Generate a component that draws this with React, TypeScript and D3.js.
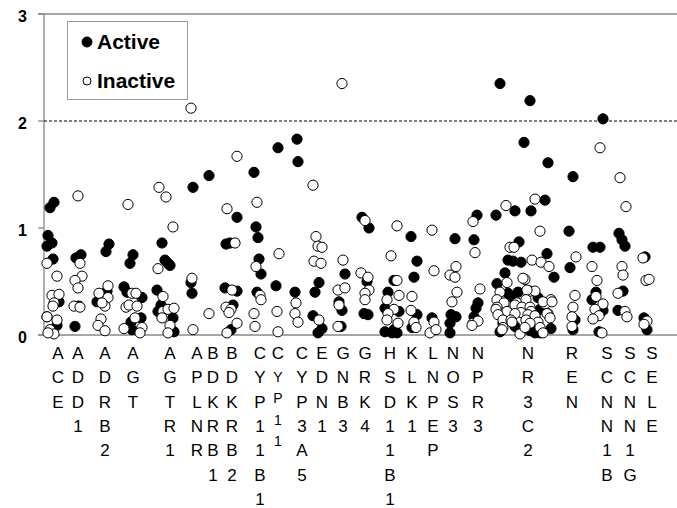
import React, { useEffect, useRef } from "react";
import * as d3 from "d3";

// gene labels and their positions along the (unlabelled) x scale
const genes = ["ACE", "ADD1", "ADRB2", "AGT", "AGTR1", "APLNR", "BDKRB1", "BDKRB2", "CYP11B1", "CYP11",
  "CYP3A5", "EDN1", "GNB3", "GRK4", "HSD11B1", "KLK1", "LNPEP", "NOS3", "NPR3", "NR3C2", "REN",
  "SCNN1B", "SCNN1G", "SELE"];
const genePos = [14, 34, 61, 89, 126, 153, 169, 188, 216, 234, 258, 278, 299, 321, 346, 368, 389, 409,
  434, 484, 528, 563, 586, 608];

// [x position, value]
const activePts: [number, number][] = [
  [10, 1.24], [6, 1.19], [4, 0.93], [8, 0.86], [3, 0.83], [9, 0.71], [15, 0.31], [3, 0.17], [13, 0.09],
  [37, 0.75], [32, 0.72], [35, 0.27], [31, 0.08],
  [65, 0.85], [62, 0.78], [63, 0.41], [53, 0.31],
  [89, 0.75], [86, 0.67], [80, 0.45], [83, 0.40], [98, 0.35], [97, 0.16], [87, 0.12], [88, 0.05],
  [118, 0.86], [121, 0.70], [124, 0.67], [126, 0.65], [113, 0.42], [117, 0.28], [114, 0.22], [129, 0.16], [130, 0.03],
  [149, 1.38], [147, 0.49], [148, 0.39],
  [165, 1.49],
  [193, 1.10], [182, 0.85], [186, 0.86], [181, 0.44], [193, 0.41], [189, 0.28], [187, 0.05],
  [210, 1.52], [212, 1.01], [214, 0.91], [215, 0.71], [217, 0.57], [213, 0.40],
  [234, 1.75], [232, 0.46],
  [253, 1.83], [254, 1.62], [251, 0.40],
  [275, 0.49], [271, 0.40], [269, 0.18], [278, 0.06], [274, 0.02],
  [301, 0.57], [295, 0.31], [298, 0.23], [297, 0.08],
  [318, 1.10], [325, 1.00], [323, 0.50], [320, 0.20], [324, 0.19],
  [350, 0.51], [344, 0.40], [341, 0.25], [355, 0.22], [341, 0.03], [348, 0.02], [353, 0.02], [350, 0.05],
  [367, 0.92], [373, 0.69], [370, 0.54], [373, 0.19], [368, 0.07],
  [388, 0.16],
  [411, 0.90], [407, 0.19], [412, 0.17], [406, 0.11], [406, 0.02],
  [433, 1.12], [430, 0.89], [434, 0.30], [432, 0.25], [430, 0.17],
  [456, 2.35], [486, 2.19], [480, 1.80], [504, 1.61], [501, 1.26], [471, 1.16], [487, 1.16], [452, 1.12],
  [475, 0.87], [464, 0.70], [469, 0.69], [477, 0.68], [503, 0.76], [510, 0.54], [461, 0.58], [453, 0.48],
  [474, 0.40], [467, 0.36], [494, 0.35], [464, 0.39], [471, 0.23], [496, 0.24], [491, 0.16], [459, 0.11],
  [471, 0.08], [456, 0.03], [486, 0.04], [491, 0.02], [496, 0.02], [507, 0.06], [489, 0.09],
  [529, 1.48], [525, 0.97], [526, 0.63], [531, 0.14], [529, 0.05],
  [559, 2.02], [549, 0.82], [556, 0.82], [552, 0.40], [548, 0.33], [559, 0.23], [555, 0.03],
  [575, 0.95], [578, 0.89], [581, 0.83], [579, 0.41], [574, 0.23],
  [601, 0.73], [600, 0.16], [603, 0.05],
];

const inactivePts: [number, number][] = [
  [3, 0.67], [13, 0.55], [8, 0.37], [15, 0.38], [10, 0.30], [9, 0.27], [3, 0.17], [13, 0.14], [6, 0.05], [10, 0.01], [4, 0.02],
  [34, 1.30], [36, 0.67], [38, 0.55], [31, 0.51], [34, 0.44], [30, 0.27], [36, 0.26],
  [64, 0.46], [55, 0.39], [64, 0.35], [61, 0.27], [58, 0.30], [57, 0.15], [54, 0.09], [61, 0.04],
  [84, 1.22], [88, 0.39], [92, 0.39], [82, 0.26], [85, 0.28], [93, 0.27], [91, 0.16], [80, 0.06], [98, 0.07], [96, 0.02],
  [115, 1.38], [122, 1.29], [129, 1.01], [114, 0.62], [119, 0.36], [119, 0.22], [124, 0.24], [130, 0.25], [118, 0.16], [126, 0.09], [124, 0.02],
  [147, 2.12], [148, 0.53], [149, 0.05],
  [165, 0.20],
  [193, 1.67], [183, 1.18], [191, 0.86], [188, 0.42], [182, 0.26], [187, 0.24], [185, 0.21], [193, 0.11], [183, 0.02],
  [213, 1.24], [212, 0.64], [216, 0.37], [217, 0.33], [210, 0.20], [211, 0.08],
  [235, 0.76], [233, 0.22], [234, 0.03],
  [252, 0.30], [251, 0.20], [254, 0.12],
  [269, 1.40], [272, 0.92], [274, 0.83], [278, 0.82], [270, 0.69], [277, 0.67], [275, 0.14],
  [298, 2.35], [299, 0.70], [294, 0.42], [301, 0.44], [295, 0.28], [294, 0.08],
  [321, 1.07], [317, 0.58], [324, 0.54], [325, 0.42], [321, 0.39], [321, 0.33],
  [353, 1.02], [347, 0.74], [353, 0.51], [343, 0.33], [355, 0.37], [350, 0.24], [344, 0.20], [343, 0.14], [354, 0.11],
  [368, 0.36], [367, 0.23], [370, 0.12], [372, 0.07],
  [388, 0.98], [390, 0.60], [390, 0.12], [386, 0.02], [392, 0.05],
  [412, 0.64], [406, 0.56], [411, 0.54], [413, 0.40], [408, 0.31],
  [429, 1.06], [431, 0.77], [436, 0.43], [429, 0.11], [434, 0.13], [428, 0.09],
  [491, 1.27], [462, 1.21], [496, 0.97], [466, 0.82], [470, 0.82], [488, 0.70], [497, 0.68], [505, 0.64],
  [463, 0.49], [481, 0.52], [479, 0.53], [456, 0.40], [486, 0.41], [491, 0.41], [483, 0.42], [453, 0.33],
  [460, 0.30], [473, 0.30], [482, 0.33], [501, 0.29], [507, 0.33], [499, 0.31], [508, 0.31], [471, 0.28],
  [478, 0.26], [486, 0.26], [453, 0.26], [452, 0.24], [463, 0.22], [477, 0.21], [487, 0.22], [504, 0.20],
  [454, 0.19], [471, 0.20], [484, 0.19], [491, 0.18], [503, 0.20], [459, 0.14], [467, 0.14], [482, 0.14],
  [494, 0.12], [506, 0.16], [468, 0.12], [486, 0.11], [459, 0.07], [476, 0.01], [481, 0.07], [496, 0.07],
  [458, 0.05], [499, 0.02],
  [532, 0.73], [531, 0.37], [529, 0.26], [528, 0.17], [528, 0.08],
  [556, 1.75], [548, 0.64], [553, 0.51], [552, 0.36], [559, 0.29], [551, 0.24], [555, 0.18], [549, 0.15], [558, 0.02],
  [576, 1.47], [582, 1.20], [578, 0.64], [579, 0.56], [574, 0.39], [581, 0.22], [583, 0.17],
  [599, 0.72], [602, 0.51], [605, 0.52], [603, 0.13], [600, 0.10],
];

const yTicks = [0, 1, 2, 3];
const threshold = 2;
const smallLabel = "CYP11"; // drawn with smaller letters in the original

const W = 677;
const H = 508;
const FONT = "Arial, 'Liberation Sans', sans-serif";

export default function App() {
  const ref = useRef<SVGSVGElement>(null);

  useEffect(() => {
    document.body.style.margin = "0";
    const margin = { top: 14, right: 0, bottom: 173, left: 44 };
    const width = W - margin.left - margin.right;
    const height = H - margin.top - margin.bottom;

    const svg = d3.select(ref.current);
    svg.selectAll("*").remove();

    const x = d3.scaleLinear().domain([0, 633]).range([0, width]);
    const y = d3.scaleLinear().domain([0, 3]).range([height, 0]);

    const g = svg.append("g").attr("transform", `translate(${margin.left},${margin.top})`);

    // axis lines
    const axisColor = "#888";
    g.append("line").attr("x1", 0).attr("x2", 0).attr("y1", 0).attr("y2", height)
      .attr("stroke", axisColor).attr("stroke-width", 1.3);
    g.append("line").attr("x1", -6).attr("x2", width).attr("y1", y(0)).attr("y2", y(0))
      .attr("stroke", axisColor).attr("stroke-width", 1.3);
    g.append("line").attr("x1", -6).attr("x2", width).attr("y1", y(3)).attr("y2", y(3))
      .attr("stroke", axisColor).attr("stroke-width", 1.3);

    g.selectAll("line.tick").data(yTicks).join("line").attr("class", "tick")
      .attr("x1", -6).attr("x2", 0).attr("y1", d => y(d)).attr("y2", d => y(d))
      .attr("stroke", axisColor).attr("stroke-width", 1.3);

    g.selectAll("text.ytick").data(yTicks).join("text").attr("class", "ytick")
      .attr("x", -17).attr("y", d => y(d) + 8)
      .attr("text-anchor", "end")
      .style("font-family", FONT).style("font-size", "16px").style("font-weight", "bold")
      .text(d => d);

    // dashed threshold line
    g.append("line").attr("x1", 0).attr("x2", width).attr("y1", y(threshold)).attr("y2", y(threshold))
      .attr("stroke", "#000").attr("stroke-width", 1).attr("stroke-dasharray", "3,2");

    // points: active first, inactive on top
    g.selectAll("circle.active").data(activePts).join("circle").attr("class", "active")
      .attr("cx", d => x(d[0])).attr("cy", d => y(d[1])).attr("r", 5.1)
      .attr("fill", "#000").attr("stroke", "#000").attr("stroke-width", 1);
    g.selectAll("circle.inactive").data(inactivePts).join("circle").attr("class", "inactive")
      .attr("cx", d => x(d[0])).attr("cy", d => y(d[1])).attr("r", 5.1)
      .attr("fill", "#fff").attr("stroke", "#000").attr("stroke-width", 1);

    // vertical gene labels, one letter per line
    genes.forEach((gene, i) => {
      const small = gene === smallLabel;
      const t = g.append("text")
        .attr("text-anchor", "middle")
        .style("font-family", FONT);
      gene.split("").forEach((ch, j) => {
        const base = height + 24;
        const yy = small ? (j === 0 ? base : base + 22.5 + (j - 1) * 21.5) : base + j * 24.3;
        t.append("tspan")
          .attr("x", x(genePos[i]))
          .attr("y", yy)
          .style("font-size", small && j > 0 ? "14px" : "17px")
          .text(ch);
      });
    });

    // legend
    const lg = svg.append("g");
    lg.append("rect").attr("x", 67.5).attr("y", 21.5).attr("width", 120).attr("height", 78)
      .attr("fill", "#fff").attr("stroke", "#999").attr("stroke-width", 1);
    lg.append("circle").attr("cx", 87).attr("cy", 42).attr("r", 5)
      .attr("fill", "#000").attr("stroke", "#000");
    lg.append("circle").attr("cx", 87).attr("cy", 81).attr("r", 4)
      .attr("fill", "#fff").attr("stroke", "#000");
    lg.append("text").attr("x", 97).attr("y", 48.5)
      .style("font-family", FONT).style("font-size", "21px").style("font-weight", "bold")
      .text("Active");
    lg.append("text").attr("x", 97).attr("y", 87.5)
      .style("font-family", FONT).style("font-size", "21px").style("font-weight", "bold")
      .text("Inactive");
  }, []);

  return <svg ref={ref} width={W} height={H} style={{ display: "block", background: "#fff" }} />;
}
